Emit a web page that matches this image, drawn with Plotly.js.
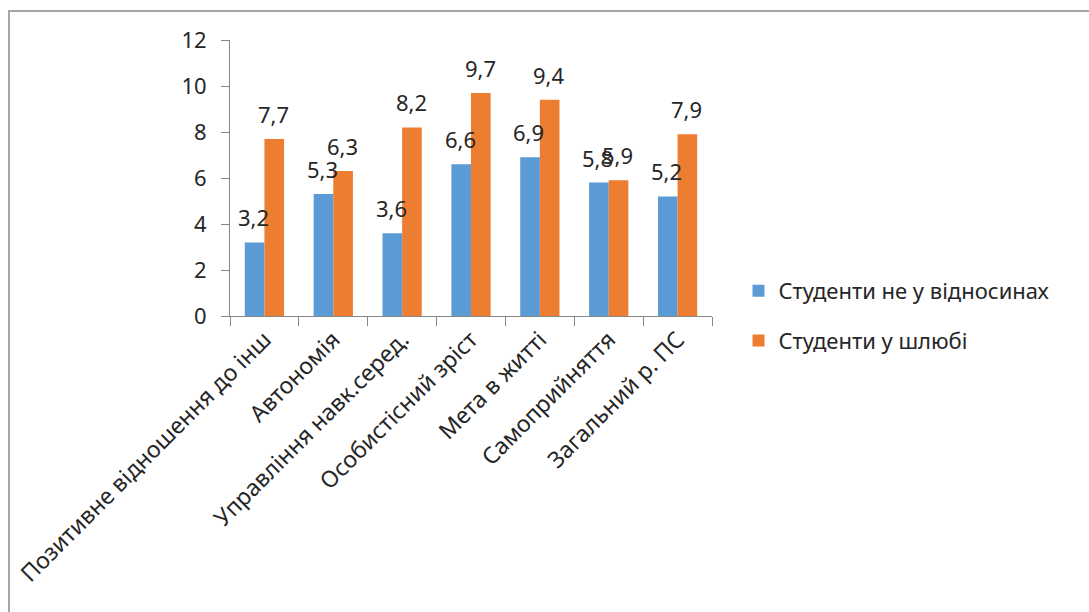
<!DOCTYPE html>
<html>
<head>
<meta charset="utf-8">
<script src="https://cdn.plot.ly/plotly-3.0.1.min.js"></script>
<style>
  html, body { margin: 0; padding: 0; background: #fff; }
  #wrap { position: relative; width: 1089px; height: 612px; overflow: hidden; }
  #frame { position: absolute; left: 8px; top: 10px; width: 1100px; height: 620px;
           border-left: 2px solid #a6a6a6; border-top: 2px solid #a6a6a6; box-sizing: border-box; }
  #chart { position: absolute; left: 0; top: 0; width: 1089px; height: 612px; }
</style>
</head>
<body>
<div id="wrap">
  <div id="frame"></div>
  <div id="chart"></div>
</div>
<script>
const categories = [
  "Позитивне відношення до інш",
  "Автономія",
  "Управління навк.серед.",
  "Особистісний зріст",
  "Мета в житті",
  "Самоприйняття",
  "Загальний р. ПС"
];
const seriesNames = ["Студенти не у відносинах", "Студенти у шлюбі"];
const notInRelationship = [3.2, 5.3, 3.6, 6.6, 6.9, 5.8, 5.2];
const married = [7.7, 6.3, 8.2, 9.7, 9.4, 5.9, 7.9];
const yTicks = [0, 2, 4, 6, 8, 10, 12];

const colors = ["#5B9BD5", "#ED7D31"];
const FONT = "Noto Sans, Open Sans, sans-serif";
const fmt = v => v.toFixed(1).replace(".", ",");

const traces = [notInRelationship, married].map((vals, i) => ({
  type: "bar",
  name: seriesNames[i],
  x: categories,
  y: vals,
  marker: { color: colors[i], line: { width: 0 } },
  legendgroup: "g" + i,
  hoverinfo: "none"
}));

const annotations = [];
[notInRelationship, married].forEach((vals, i) => {
  vals.forEach((v, j) => {
    annotations.push({
      x: categories[j], y: v, xref: "x", yref: "y",
      text: fmt(v), showarrow: false,
      xshift: i === 0 ? -11 : 9, yshift: 25,
      xanchor: "center", yanchor: "middle",
      font: { family: FONT, size: 22, color: "#262626" }
    });
  });
});

const layout = {
  width: 1089, height: 612,
  margin: { l: 230, r: 377, t: 40, b: 296, pad: 0 },
  paper_bgcolor: "rgba(0,0,0,0)",
  plot_bgcolor: "rgba(0,0,0,0)",
  barmode: "group",
  bargap: 0.43,
  bargroupgap: 0,
  showlegend: true,
  legend: {
    x: 1.055, xanchor: "left", y: 0.0, yanchor: "middle",
    font: { family: FONT, size: 22, color: "#262626" },
    itemwidth: 30,
    tracegroupgap: 18, bgcolor: "rgba(0,0,0,0)"
  },
  xaxis: {
    type: "category",
    showline: true, linecolor: "#868686", linewidth: 1,
    ticks: "outside", tickson: "boundaries", ticklen: 9, tickcolor: "#868686",
    tickangle: -45,
    tickfont: { family: FONT, size: 23, color: "#262626" },
    showgrid: false, zeroline: false, fixedrange: true
  },
  yaxis: {
    range: [0, 12],
    tickvals: yTicks,
    ticktext: yTicks.map(String),
    showline: true, linecolor: "#868686", linewidth: 1,
    ticks: "outside", ticklen: 8, tickcolor: "#868686",
    tickfont: { family: FONT, size: 22, color: "#262626" },
    ticklabelstandoff: 10,
    showgrid: false, zeroline: false, fixedrange: true
  },
  annotations: annotations
};

Plotly.newPlot("chart", traces, layout, { displayModeBar: false, staticPlot: true });
</script>
</body>
</html>
